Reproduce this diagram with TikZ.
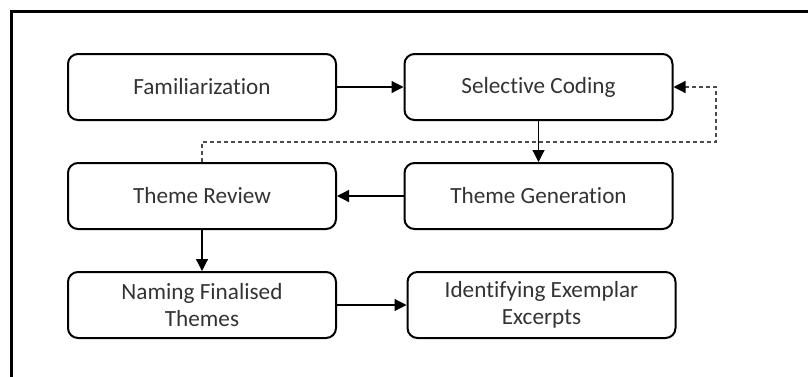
\documentclass[tikz,border=0pt]{standalone}
\usepackage{fontspec}
\setmainfont{Carlito}[Ligatures={NoCommon,NoRare}]
\usetikzlibrary{arrows.meta}
\definecolor{txtgray}{HTML}{333333}
\begin{document}
\begin{tikzpicture}[x=0.5pt,y=-0.5pt,
    >={Triangle[length=6pt,width=6pt]},
    stage/.style={draw,line width=1pt,rounded corners=5pt,
      minimum width=134pt,minimum height=33pt,align=center,
      text=txtgray,font=\fontsize{11.6}{13.7}\selectfont},
    flow/.style={->,line width=0.6pt},
    back/.style={-{Triangle[length=6pt,width=6pt,color=black]},line width=0.6pt,
      draw=black!70,dash pattern=on 2pt off 1.5pt}]
  \useasboundingbox (0,0) rectangle (808,376);
  \clip (0,0) rectangle (808,376);
  \draw[line width=1.75pt] (11.5,11.5) rectangle (840,400);
  \node[stage] (fam) at (202,87) {Familiarization};
  \node[stage] (sel) at (538.5,87) {Selective Coding};
  \node[stage] (rev) at (202,196) {Theme Review};
  \node[stage] (gen) at (538.5,196) {Theme Generation};
  \node[stage] (nam) at (202,305) {Naming Finalised\\Themes};
  \node[stage] (exc) at (541.5,305) {Identifying Exemplar\\Excerpts};
  \coordinate (loop) at (716,142);
  \draw[flow] (fam) -- (sel);
  \draw[flow] (sel) -- (gen);
  \draw[flow] (gen) -- (rev);
  \draw[flow] (rev) -- (nam);
  \draw[flow] (nam) -- (exc);
  \draw[back] (rev.north) |- (loop) |- (sel.east);
\end{tikzpicture}
\end{document}
